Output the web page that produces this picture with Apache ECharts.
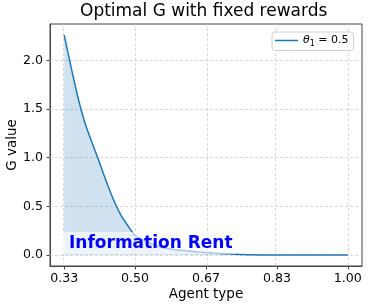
<!DOCTYPE html>
<html><head><meta charset="utf-8">
<script src="https://cdn.jsdelivr.net/npm/echarts@6/dist/echarts.min.js"></script>
<style>html,body{margin:0;padding:0;background:#fff}#c{width:369px;height:308px}</style>
</head><body><div id="c"></div>
<script>
const agentType = [0.3333, 0.35, 0.3667, 0.3833, 0.40, 0.4167, 0.4333, 0.45, 0.4667, 0.4833,
  0.50, 0.5167, 0.5333, 0.55, 0.5667, 0.5833, 0.60, 0.6167, 0.6333, 0.65,
  0.6667, 0.6833, 0.70, 0.7167, 0.7333, 0.75, 0.80, 0.85, 0.90, 0.95, 1.00];
const gValue = [2.26, 1.92, 1.60, 1.34, 1.14, 0.944, 0.745, 0.56, 0.41, 0.30,
  0.20, 0.16, 0.125, 0.095, 0.075, 0.062, 0.052, 0.045, 0.038, 0.031,
  0.025, 0.02, 0.016, 0.012, 0.008, 0.004, 0, 0, 0, 0, 0];
const xTicks = [1/3, 1/2, 2/3, 5/6, 1];
const yTicks = [0, 0.5, 1.0, 1.5, 2.0];
const seriesName = 'theta1';
const titleText = 'Optimal G with fixed rewards';
const xName = 'Agent type';
const yName = 'G value';
const annotationText = 'Information Rent';

const FONT = 'DejaVu Sans';
const chart = echarts.init(document.getElementById('c'), null, {renderer: 'canvas'});
const data = agentType.map((x, i) => [x, gValue[i]]);
const xSpan = xTicks[xTicks.length - 1] - xTicks[0];
const yMaxData = Math.max(...gValue), yMinData = Math.min(...gValue);
const ySpan = yMaxData - yMinData;
const grid = {color: '#cfcfcf', type: [3, 2], width: 0.8};

chart.setOption({
  animation: false,
  title: {
    text: titleText, left: 80, top: 3, padding: 0,
    textStyle: {fontFamily: FONT, fontSize: 17, fontWeight: 'normal', color: '#000'}
  },
  grid: {left: 50, right: 7, top: 24, bottom: 42, containLabel: false, outerBoundsMode: 'none',
    show: true, borderColor: '#444', borderWidth: 1, backgroundColor: 'transparent'},
  legend: {
    left: 272, top: 32, padding: [3, 5, 3, 3], itemWidth: 23, itemHeight: 1.5, icon: 'rect',
    borderColor: '#d0d0d0', borderWidth: 1, borderRadius: 3, backgroundColor: 'rgba(255,255,255,0.8)',
    formatter: () => '{i|θ}{s|1}{n| = 0.5}',
    textStyle: {
      fontFamily: FONT, fontSize: 11, color: '#000',
      rich: {
        i: {fontFamily: FONT, fontSize: 11, fontStyle: 'italic', lineHeight: 14, verticalAlign: 'middle'},
        s: {fontFamily: FONT, fontSize: 8, lineHeight: 14, verticalAlign: 'bottom'},
        n: {fontFamily: FONT, fontSize: 11, lineHeight: 14, verticalAlign: 'middle'}
      }
    }
  },
  xAxis: {
    type: 'value', min: xTicks[0] - xSpan * 0.05, max: xTicks[xTicks.length - 1] + xSpan * 0.05,
    name: xName, nameLocation: 'middle', nameGap: 21, nameMoveOverlap: false,
    nameTextStyle: {fontFamily: FONT, fontSize: 13.5, color: '#000', verticalAlign: 'top'},
    axisLine: {show: true, onZero: false, lineStyle: {color: '#444', width: 1}},
    axisTick: {show: true, inside: false, length: 3.5, lineStyle: {color: '#444'}, customValues: xTicks},
    axisLabel: {fontFamily: FONT, fontSize: 12.6, color: '#000', margin: 6,
      customValues: xTicks, formatter: v => v.toFixed(2)},
    splitLine: {show: false}
  },
  yAxis: {
    type: 'value', min: yMinData - ySpan * 0.05, max: yMaxData + ySpan * 0.05,
    name: yName, nameLocation: 'middle', nameGap: 31, nameRotate: 90, nameMoveOverlap: false,
    nameTextStyle: {fontFamily: FONT, fontSize: 13.5, color: '#000', verticalAlign: 'bottom'},
    axisLine: {show: true, onZero: false, lineStyle: {color: '#444', width: 1}},
    axisTick: {show: true, inside: false, length: 3.5, lineStyle: {color: '#444'}, customValues: yTicks},
    axisLabel: {fontFamily: FONT, fontSize: 12.6, color: '#000', margin: 7,
      customValues: yTicks, formatter: v => v.toFixed(1)},
    splitLine: {show: false}
  },
  series: [{
    name: seriesName, type: 'line', data: data, symbol: 'none', smooth: 0.25,
    lineStyle: {color: '#1f77b4', width: 1.5}, itemStyle: {color: '#1f77b4'},
    areaStyle: {color: 'rgba(31,119,180,0.3)', origin: 0}, z: 3,
    markLine: {
      silent: true, symbol: 'none', label: {show: false}, z: 1,
      lineStyle: grid,
      data: xTicks.map(v => ({xAxis: v})).concat(yTicks.map(v => ({yAxis: v})))
    }
  }],
  graphic: [{
    type: 'text', left: 63, top: 232, z: 100,
    style: {
      text: annotationText, fill: '#0000ff', font: 'bold 17px "DejaVu Sans"',
      backgroundColor: 'rgba(255,255,255,0.6)', padding: [3, 5, 2, 6], borderRadius: 4
    }
  }]
});
</script></body></html>
